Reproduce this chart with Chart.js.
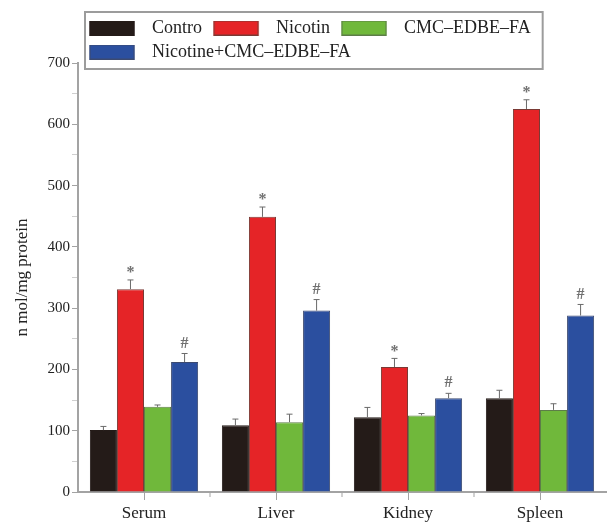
<!DOCTYPE html>
<html>
<head>
<meta charset="utf-8">
<script src="https://cdn.jsdelivr.net/npm/chart.js@4.4.1/dist/chart.umd.min.js"></script>
<style>
    body { margin: 0; background: #fff; }
    .chart-box { width: 609px; height: 522px; }
</style>
</head>
<body>
<div class='chart-box'><canvas id="assayChart"></canvas></div>
<script>
const categories = ['Serum', 'Liver', 'Kidney', 'Spleen'];

const control = [101, 109, 122, 153];
const nicotin = [331, 449, 204, 625];
const cmcEdbeFa = [139, 114, 125, 134];
const combined = [212, 296, 153, 288];

// error bar half-widths (upper side only)
const controlErr = [6, 10, 16, 13];
const nicotinErr = [15, 16, 14, 15];
const cmcEdbeFaErr = [3, 13, 3, 10];
const combinedErr = [14, 18, 8, 18];

// significance marks drawn over the bars
const nicotinMarks = ['*', '*', '*', '*'];
const combinedMarks = ['#', '#', '#', '#'];

const yTicks = [0, 100, 200, 300, 400, 500, 600, 700];

const serif = "'Liberation Serif', 'Times New Roman', serif";
const axisGray = '#a3a3a3';

function swatch(color, edge) {
    // legend swatch with some blank room on each side
    const c = document.createElement('canvas');
    c.width = 59;
    c.height = 15;
    const ctx = c.getContext('2d');
    ctx.fillStyle = color;
    ctx.fillRect(5.5, 0, 45, 15);
    ctx.strokeStyle = edge;
    ctx.lineWidth = 1;
    ctx.strokeRect(6, 0.5, 44, 14);
    return c;
}

function dataset(label, data, errors, marks, color, edge) {
    return {
        label: label,
        data: data,
        errors: errors,
        marks: marks,
        backgroundColor: color,
        borderColor: edge,
        borderWidth: 1,
        swatch: swatch(color, edge),
    };
}

const errorBars = {
    id: 'errorBars',
    afterDatasetsDraw(chart) {
        const ctx = chart.ctx;
        const y = chart.scales.y;
        ctx.save();
        chart.data.datasets.forEach(function(ds, i) {
            chart.getDatasetMeta(i).data.forEach(function(bar, j) {
                const top = y.getPixelForValue(ds.data[j] + ds.errors[j]);
                ctx.strokeStyle = '#6a6a6a';
                ctx.lineWidth = 1;
                ctx.beginPath();
                ctx.moveTo(bar.x, bar.y);
                ctx.lineTo(bar.x, top);
                ctx.moveTo(bar.x - 3, top);
                ctx.lineTo(bar.x + 3, top);
                ctx.stroke();
                if (ds.marks) {
                    ctx.fillStyle = '#707070';
                    ctx.font = 'bold 16px ' + serif;
                    ctx.textAlign = 'center';
                    ctx.textBaseline = 'middle';
                    ctx.fillText(ds.marks[j], bar.x, ds.marks[j] === '*' ? top - 7 : top - 10);
                }
            });
        });
        ctx.restore();
    },
    afterDraw(chart) {
        const ctx = chart.ctx;
        const x = chart.scales.x;
        const area = chart.chartArea;
        ctx.save();
        // minor ticks between the groups
        ctx.strokeStyle = axisGray;
        ctx.lineWidth = 1;
        ctx.beginPath();
        for (let i = 0; i < categories.length - 1; i++) {
            const px = (x.getPixelForValue(i) + x.getPixelForValue(i + 1)) / 2;
            ctx.moveTo(px, area.bottom);
            ctx.lineTo(px, area.bottom + 5);
        }
        ctx.stroke();
        // frame round the legend
        const legend = chart.legend;
        const boxes = legend.legendHitBoxes;
        let right = 0;
        boxes.forEach(function(b) { right = Math.max(right, b.left + b.width); });
        ctx.strokeStyle = '#9c9c9c';
        ctx.lineWidth = 2;
        ctx.strokeRect(boxes[0].left + 1, legend.top - 1, right + 11 - boxes[0].left, area.top + 6 - legend.top + 1);
        ctx.restore();
    }
};

new Chart(document.getElementById('assayChart'), {
    type: 'bar',
    data: {
        labels: categories,
        datasets: [
            dataset('Contro', control, controlErr, null, '#241b18', '#241b18'),
            dataset('Nicotin', nicotin, nicotinErr, nicotinMarks, '#e52427', '#7a3a35'),
            dataset('CMC\u2013EDBE\u2013FA', cmcEdbeFa, cmcEdbeFaErr, null, '#70b83b', '#5d7d48'),
            dataset('Nicotine+CMC\u2013EDBE\u2013FA', combined, combinedErr, combinedMarks, '#2b4f9f', '#3c4a70'),
        ]
    },
    options: {
        responsive: true,
        maintainAspectRatio: false,
        animation: false,
        layout: {
            padding: { top: 13, right: 3, left: 0, bottom: 0 }
        },
        datasets: {
            bar: { categoryPercentage: 0.82, barPercentage: 1 }
        },
        plugins: {
            tooltip: { enabled: false },
            legend: {
                position: 'top',
                align: 'start',
                fullSize: false,
                maxHeight: 50,
                labels: {
                    color: '#222',
                    font: { family: serif, size: 18 },
                    padding: 6,
                    usePointStyle: true,
                    pointStyleWidth: 59,
                    boxHeight: 15,
                    generateLabels(chart) {
                        const items = Chart.defaults.plugins.legend.labels.generateLabels(chart);
                        items.forEach(function(item) {
                            item.pointStyle = chart.data.datasets[item.datasetIndex].swatch;
                        });
                        return items;
                    }
                }
            }
        },
        scales: {
            x: {
                afterFit(scale) { scale.height = 30; },
                grid: {
                    display: true,
                    offset: false,
                    drawOnChartArea: false,
                    tickLength: 8,
                    tickColor: axisGray,
                },
                border: { color: axisGray, width: 2 },
                ticks: {
                    color: '#222',
                    padding: 3,
                    font: { family: serif, size: 17 }
                }
            },
            y: {
                min: 0,
                max: 700,
                afterFit(scale) { scale.width = 78; },
                title: {
                    display: true,
                    text: 'n mol/mg protein',
                    color: '#222',
                    font: { family: serif, size: 17 },
                    padding: { top: 12, bottom: 0 }
                },
                grid: {
                    display: true,
                    drawOnChartArea: false,
                    tickLength: 6,
                    tickColor(ctx) {
                        return yTicks.includes(ctx.tick.value) ? axisGray : '#cfcfcf';
                    }
                },
                border: { color: axisGray, width: 2 },
                ticks: {
                    stepSize: 50,
                    color: '#222',
                    padding: 2,
                    font: { family: serif, size: 15 },
                    callback(value) {
                        return yTicks.includes(value) ? value : '';
                    }
                }
            }
        }
    },
    plugins: [errorBars]
});
</script>
</body>
</html>
